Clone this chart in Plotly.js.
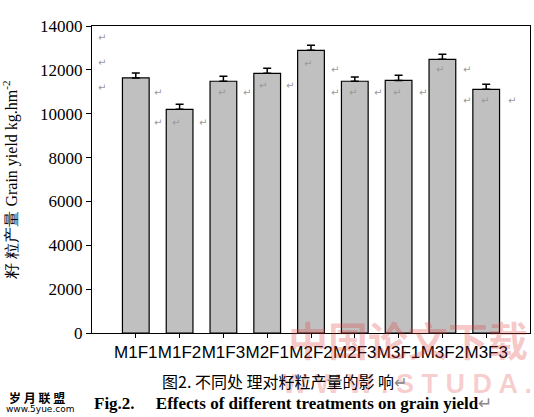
<!DOCTYPE html>
<html><head><meta charset="utf-8">
<script src="https://cdn.plot.ly/plotly-3.0.1.min.js"></script>
<style>html,body{margin:0;padding:0;background:#fff}</style>
</head><body><div id="chart" style="width:534px;height:417px"></div>
<script>
const categories = ["M1F1","M1F2","M1F3","M2F1","M2F2","M2F3","M3F1","M3F2","M3F3"];
const yieldValues = [11630, 10200, 11480, 11840, 12890, 11480, 11520, 12480, 11110];
const yieldErrors = [230, 230, 230, 230, 230, 190, 230, 230, 230];
const yTickValues = [0,2000,4000,6000,8000,10000,12000,14000];
const yTickLabels = ["0","2000","4000","6000","8000","10000","12000","14000"];

const trace = {
  type: "bar",
  x: categories,
  y: yieldValues,
  width: 0.61,
  marker: {color: "#c0c0c0", line: {color: "#000", width: 1.2}},
  error_y: {type: "data", symmetric: false, array: yieldErrors, arrayminus: yieldErrors.map(() => 0),
            visible: true, color: "#000", thickness: 1.5, width: 4},
  hoverinfo: "none"
};

const serif = "Liberation Serif, Times New Roman, serif";

// small gray paragraph marks left over in the source figure (pixel positions)
const markPx = [[102,37],[102,62],[102,87],[158,92],[158,122],[176,122],[203,122],[222,92],[247,92],
  [263,85],[290,85],[308,63],[335,70],[335,92],[353,92],[378,92],[397,92],[423,92],[440,70],
  [467,70],[467,100],[485,100],[512,100]];
const markAnns = markPx.map(p => ({text: "↵", xref: "paper", yref: "paper",
  x: (p[0]-92)/438, y: (333-p[1])/307, xanchor: "center", yanchor: "middle", showarrow: false,
  font: {family: "DejaVu Sans", size: 10, color: "#999"}}));

const layout = {
  width: 534, height: 417,
  margin: {l: 92, r: 4, t: 26, b: 84},
  paper_bgcolor: "#fff", plot_bgcolor: "#fff",
  showlegend: false,
  xaxis: {
    type: "category", range: [-1, 9],
    showline: true, linecolor: "#000", linewidth: 1, mirror: true,
    ticks: "outside", ticklen: 4, tickcolor: "#000",
    tickfont: {family: "Liberation Sans, Arial, sans-serif", size: 17, color: "#000"},
    tickangle: 0, showgrid: false, zeroline: false, automargin: false
  },
  yaxis: {
    range: [0, 14000], tickvals: yTickValues, ticktext: yTickLabels,
    showline: true, linecolor: "#000", linewidth: 1, mirror: true,
    ticks: "outside", ticklen: 5, tickcolor: "#000",
    tickfont: {family: serif, size: 17, color: "#000"},
    showgrid: false, zeroline: false, automargin: false,
    title: {text: "籽 粒产量 Grain yield kg.hm<sup>-2</sup>", font: {family: serif, size: 16, color: "#000"}, standoff: 20}
  },
  annotations: markAnns.concat([
    {text: "<b>中国论文下载</b>", xref: "paper", yref: "paper", x: 1.0, y: -0.02, xanchor: "right", yanchor: "middle",
     showarrow: false, font: {family: "Noto Sans CJK SC", size: 40, color: "rgba(225,60,60,0.28)"}},
    {text: "<b>W W W . S T U D A .</b>", xref: "paper", yref: "paper", x: 1.01, y: -0.165, xanchor: "right", yanchor: "middle",
     showarrow: false, font: {family: "Liberation Sans, Arial", size: 27, color: "rgba(230,80,80,0.28)"}},
    {text: "图2. 不同处 理对籽粒产量的影 响<span style='color:#888'>↵</span>", xref: "paper", yref: "paper", x: 0.155, y: -0.155, xanchor: "left", yanchor: "middle",
     showarrow: false, font: {family: "Noto Sans CJK SC", size: 16, color: "#000"}},
    {text: "<b>Fig.2.</b>     <b>Effects of different treatments on grain yield</b><span style='color:#888'>↵</span>", xref: "paper", yref: "paper", x: 0.0, y: -0.23, xanchor: "left", yanchor: "middle",
     showarrow: false, font: {family: serif, size: 17, color: "#000"}},
    {text: "<b>岁 月 联 盟</b>", xref: "paper", yref: "paper", x: -0.195, y: -0.175, xanchor: "left", yanchor: "top",
     showarrow: false, font: {family: "Noto Sans CJK SC", size: 12, color: "#000"}},
    {text: "www.5yue.com", xref: "paper", yref: "paper", x: -0.2, y: -0.225, xanchor: "left", yanchor: "top",
     showarrow: false, font: {family: "DejaVu Sans", size: 9, color: "#000"}}
  ])
};

Plotly.newPlot("chart", [trace], layout, {staticPlot: true, displayModeBar: false});
</script></body></html>
